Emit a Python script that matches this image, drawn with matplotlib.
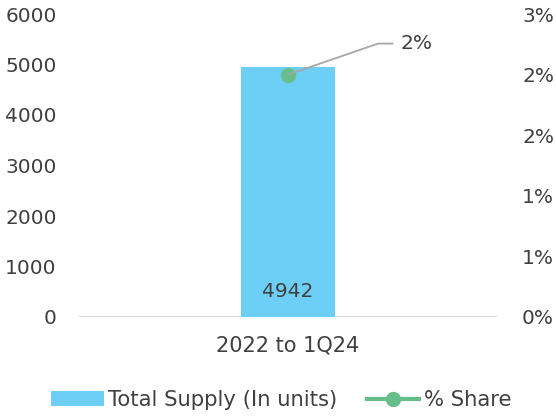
import matplotlib
matplotlib.use("Agg")
import matplotlib.pyplot as plt
from matplotlib.patches import Patch
from matplotlib.lines import Line2D

categories = ["2022 to 1Q24"]
total_supply = [4942]
share_pct = [2.4]
left_ticks = [0, 1000, 2000, 3000, 4000, 5000, 6000]
right_ticks = [0, 0.6, 1.2, 1.8, 2.4, 3.0]
right_tick_labels = ["0%", "1%", "1%", "2%", "2%", "3%"]
share_label = "2%"

BAR = "#6DCFF6"
GREEN = "#66BF8A"
TXT = "#404040"
FSL = 15.2
FSN = 14.5

plt.rcParams['font.family'] = ['DejaVu Sans']

fig = plt.figure(figsize=(5.56, 4.18), dpi=100)
ax = fig.add_axes([79/556, 1-317/418, (497-79)/556, (317-14)/418])
x = list(range(len(categories)))
ax.bar(x, total_supply, width=0.2225, color=BAR, zorder=2)
ax.set_xlim(-0.5, 0.5)
ax.set_ylim(0, 6000)
ax.set_yticks(left_ticks)
ax.set_xticks(x)
ax.set_xticklabels(categories)
for s in ax.spines.values():
    s.set_visible(False)
ax.axhline(0, color="#D9D9D9", lw=1.5, zorder=1)
ax.tick_params(axis='both', length=0, labelsize=FSN, labelcolor=TXT)
ax.tick_params(axis='y', pad=16)
ax.tick_params(axis='x', pad=13, labelsize=15)
for xi, v in zip(x, total_supply):
    ax.text(xi, 500, f"{v}", ha='center', va='center', fontsize=FSN, color=TXT, zorder=3)

ax2 = ax.twinx()
ax2.plot(x, share_pct, color=GREEN, marker='o', markersize=10, lw=3, zorder=3)
ax2.set_ylim(0, 3.0)
ax2.set_yticks(right_ticks)
ax2.set_yticklabels(right_tick_labels)
for s in ax2.spines.values():
    s.set_visible(False)
ax2.tick_params(axis='y', length=0, labelsize=FSN, labelcolor=TXT, pad=18)

for xi, v in zip(x, share_pct):
    ax2.annotate(share_label, xy=(xi, v), xytext=(113, 31), textcoords='offset pixels',
                 ha='left', va='center', fontsize=FSN, color=TXT,
                 arrowprops=dict(arrowstyle='-', color='#A6A6A6', lw=1.3,
                                 connectionstyle='angle,angleA=0,angleB=19,rad=0',
                                 shrinkA=4, shrinkB=0, relpos=(0, 0.5)))

handles = [Patch(facecolor=BAR, edgecolor='none', label='Total Supply (In units)'),
           Line2D([0], [0], color=GREEN, lw=3, marker='o', markersize=10, label='% Share')]
fig.legend(handles=handles, loc='center', bbox_to_anchor=(281/556, 1-400/418), ncol=2,
           frameon=False, fontsize=FSL, handlelength=2.5, handletextpad=0.2,
           columnspacing=1.4, labelcolor=TXT)

fig.savefig("out.png", dpi=100)
